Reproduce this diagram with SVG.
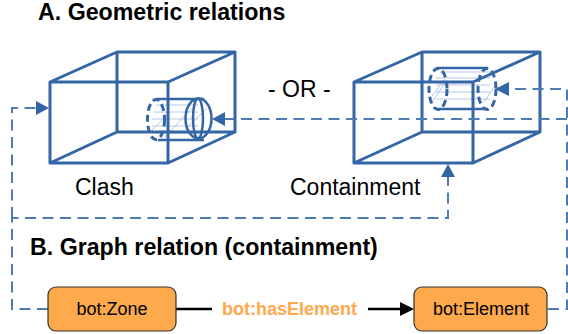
<svg xmlns="http://www.w3.org/2000/svg" width="568" height="334" viewBox="0 0 568 334">
<style>
text{font-family:"Liberation Sans",Arial,sans-serif;fill:#000}
.h{font-size:23.200px;font-weight:bold}
.l{font-size:23px}
.n{font-size:18px;text-anchor:middle}
.box{fill:none;stroke:#3465a4;stroke-width:3;stroke-linejoin:round;stroke-linecap:round}
.cyl{fill:none;stroke:#3465a4;stroke-width:2.5}
.dc{fill:none;stroke:#3465a4;stroke-width:3;stroke-dasharray:7 4}
.hat{fill:none;stroke:#b4c7e7;stroke-width:1}
.d{fill:none;stroke:#4f7bb5;stroke-width:2;stroke-dasharray:11 6.5}
.a{fill:#3465a4}
.node{fill:#ffa94d;stroke:#333;stroke-width:1.2}
</style>
<text class="h" x="38" y="20">A. Geometric relations</text>
<text class="h" x="30" y="255">B. Graph relation (containment)</text>
<text class="l" x="268" y="97">- OR -</text>
<text class="l" x="75" y="195">Clash</text>
<text class="l" x="290" y="195">Containment</text>
<g id="clash">
<path class="hat" d="M156 105H198M154 112H198M152 119H198M152 126H198M156 133H198M150 132L170 112M165 137L195 105M185 130L207 108"/>
<path class="cyl" d="M156 99H204M158 140H204"/>
<ellipse class="dc" cx="156" cy="119.500" rx="8.500" ry="20"/>
<ellipse class="cyl" cx="198.500" cy="118.500" rx="13" ry="20"/>
<ellipse class="cyl" cx="198" cy="118.500" rx="5" ry="20"/>
<path class="box" d="M50 82H168V163H50ZM50 82L117 52H235L168 82M235 52V132L168 163M117 52V132H235M117 132L50 163"/>
</g>
<g id="containment">
<path class="hat" d="M436 78H490M436 85H490M436 92H490M436 99H490M440 72H490M432 102L447 80M484 102L496 84M432 96L445 79"/>
<path class="cyl" d="M437 68H488M437 109H488"/>
<ellipse class="dc" cx="438" cy="89" rx="9" ry="20.500"/>
<ellipse class="dc" cx="487" cy="89" rx="9" ry="20.500"/>
<path class="box" d="M354 82H473V163H354ZM354 82L422 52H540L473 82M540 52V132L473 163M422 52V132H540M422 132L354 163"/>
</g>
<g id="connectors">
<path class="d" d="M48 309H12V218H448V177"/>
<path class="d" d="M12 218V108H36"/>
<path class="d" d="M548 309H567V89H509"/>
<path class="d" d="M567 119H225"/>
<path class="a" d="M49 108L36 101V115ZM212 119L225 112V126ZM495 89L509 82V96ZM448 164L441 177H455Z"/>
<path d="M176 309H212M368 309H402" fill="none" stroke="#000" stroke-width="2.500"/>
<path d="M414 309L400 302V316Z" fill="#000"/>
</g>
<text x="222" y="315" font-size="18" font-weight="bold" style="fill:#ffa94d">bot:hasElement</text>
<g id="bot-zone">
<rect class="node" x="48" y="287" width="128" height="44" rx="8"/>
<text class="n" x="112" y="315">bot:Zone</text>
</g>
<g id="bot-element">
<rect class="node" x="414" y="287" width="133" height="44" rx="8"/>
<text class="n" x="481" y="315">bot:Element</text>
</g>
</svg>
